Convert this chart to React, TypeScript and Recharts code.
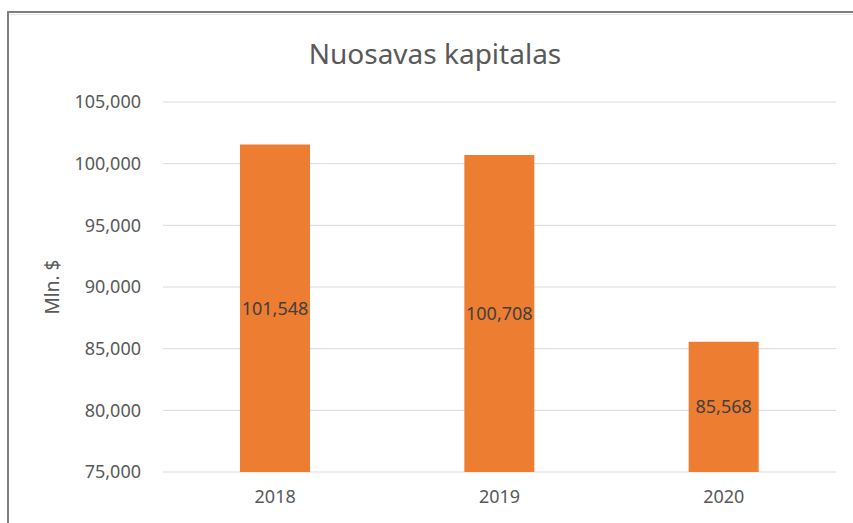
import { BarChart, Bar, XAxis, YAxis, CartesianGrid, LabelList, Label } from 'recharts';

const years = ['2018', '2019', '2020'];
const equity = [101548, 100708, 85568];
const yTicks = [75000, 80000, 85000, 90000, 95000, 100000, 105000];

const data = years.map((y, i) => ({ year: y, value: equity[i] }));

const fmt = (v: number) => v.toLocaleString('en-US');
const FONT = '"Noto Sans", sans-serif';

export default function App() {
    return (
        <div style={{ position: 'absolute', left: 0, top: 0, width: 853, height: 523, background: '#fff', fontFamily: FONT }}>
            {/* chart frame, cut off at the right and bottom */}
            <div style={{ position: 'absolute', left: 7, top: 11, right: 0, height: 2, background: '#7f7f7f' }} />
            <div style={{ position: 'absolute', left: 7, top: 11, bottom: 0, width: 2, background: '#7f7f7f' }} />
            <div style={{ position: 'absolute', left: 9, top: 14, right: 0, height: 1, background: '#e6e6e6' }} />
            <div style={{ position: 'absolute', left: 0, top: 34, width: 870, textAlign: 'center', fontSize: 28, color: '#595959' }}>
                Nuosavas kapitalas
            </div>
            <BarChart width={853} height={523} data={data} margin={{ top: 102, right: 17, left: 0, bottom: 0 }} barSize={70}>
                <CartesianGrid vertical={false} stroke="#d9d9d9" />
                <XAxis
                    dataKey="year"
                    height={51}
                    axisLine={false}
                    tickLine={false}
                    tickSize={0}
                    tickMargin={18}
                    tick={{ fill: '#595959', fontSize: 18, fontFamily: FONT }}
                />
                <YAxis
                    width={163}
                    domain={[75000, 105000]}
                    ticks={yTicks}
                    tickFormatter={fmt}
                    axisLine={false}
                    tickLine={false}
                    tickSize={0}
                    tickMargin={22}
                    tick={{ fill: '#595959', fontSize: 18, fontFamily: FONT }}
                >
                    <Label value="Mln. $" angle={-90} position="insideLeft" offset={52} style={{ fill: '#595959', fontSize: 19, fontFamily: FONT, textAnchor: 'middle' }} />
                </YAxis>
                <Bar dataKey="value" fill="#ED7D31" isAnimationActive={false}>
                    <LabelList dataKey="value" position="center" formatter={(v: any) => fmt(Number(v))} style={{ fill: '#404040', fontSize: 18, fontFamily: FONT }} />
                </Bar>
            </BarChart>
        </div>
    );
}
